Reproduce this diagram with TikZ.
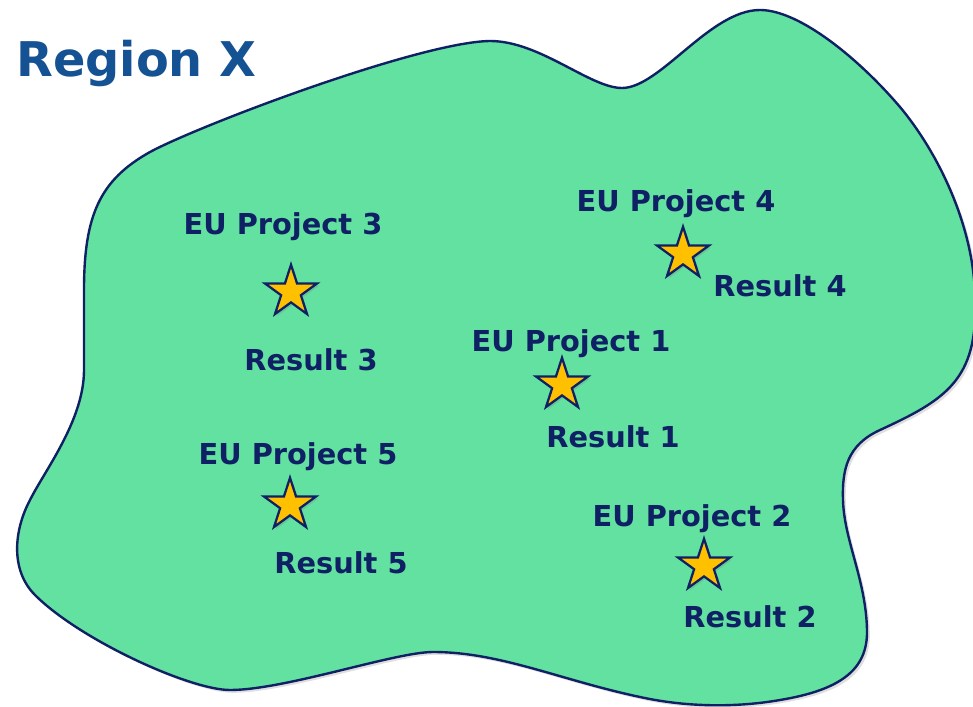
\documentclass[tikz,border=0pt]{standalone}
\usepackage{fontspec}
\setmainfont{DejaVu Sans}
\usetikzlibrary{shapes.geometric,shadows}

\definecolor{regionblue}{RGB}{20,82,148}
\definecolor{navy}{RGB}{16,32,100}
\definecolor{landgreen}{RGB}{99,225,160}
\definecolor{staryellow}{RGB}{255,192,0}

\begin{document}
\begin{tikzpicture}[x=0.25mm,y=-0.25mm,
  projtext/.style={text=navy,font=\bfseries\fontsize{20.5}{24}\selectfont,inner sep=0pt,anchor=base},
  eustar/.style={star,star points=5,star point ratio=2.618,minimum size=13.6mm,inner sep=0pt,
    draw=navy,line width=1.6pt,fill=staryellow,
    drop shadow={opacity=0.3,shadow xshift=1.5pt,shadow yshift=-1.5pt}}]

\useasboundingbox (0,0) rectangle (973,707);

% the region
\draw [draw=navy, line width=1.7pt, fill=landgreen,
       drop shadow={opacity=0.25,shadow xshift=2pt,shadow yshift=-2pt}]
  (84,370) -- (84,290) .. controls (84,215) and (100,180) .. (150,152)
  .. controls (200,125) and (420,42) .. (490,41)
  .. controls (540,41) and (590,88) .. (622,88)
  .. controls (660,88) and (710,10) .. (760,10)
  .. controls (800,10) and (860,60) .. (900,107)
  .. controls (940,155) and (975,230) .. (975,300)
  .. controls (978,380) and (945,400) .. (880,430)
  .. controls (847,445) and (842,470) .. (843,500)
  .. controls (844,540) and (866,580) .. (867,630)
  .. controls (868,670) and (840,690) .. (780,700)
  .. controls (740,707) and (690,708) .. (640,697)
  .. controls (560,680) and (500,652) .. (433,652)
  .. controls (395,652) and (285,690) .. (230,690)
  .. controls (190,690) and (80,640) .. (35,595)
  .. controls (10,570) and (14,530) .. (30,500)
  .. controls (45,470) and (84,420) .. (84,370) -- cycle;

\node (title) at (16,77) [anchor=base west, inner sep=0pt, text=regionblue,
  font=\bfseries\fontsize{34}{40}\selectfont] {Region X};

% projects and results
\node (star1) at (562,385) [eustar] {};
\node (proj1) at (571,351) [projtext] {EU Project 1};
\node (res1) at (613,447) [projtext] {Result 1};

\node (star2) at (704,566) [eustar] {};
\node (proj2) at (692,526) [projtext] {EU Project 2};
\node (res2) at (750,627) [projtext] {Result 2};

\node (star3) at (291,292) [eustar] {};
\node (proj3) at (283,235) [projtext] {EU Project 3};
\node (res3) at (311,370) [projtext] {Result 3};

\node (star4) at (683,254) [eustar] {};
\node (proj4) at (676,212) [projtext] {EU Project 4};
\node (res4) at (780,296) [projtext] {Result 4};

\node (star5) at (290,505) [eustar] {};
\node (proj5) at (298,464) [projtext] {EU Project 5};
\node (res5) at (341,573) [projtext] {Result 5};

\end{tikzpicture}
\end{document}
